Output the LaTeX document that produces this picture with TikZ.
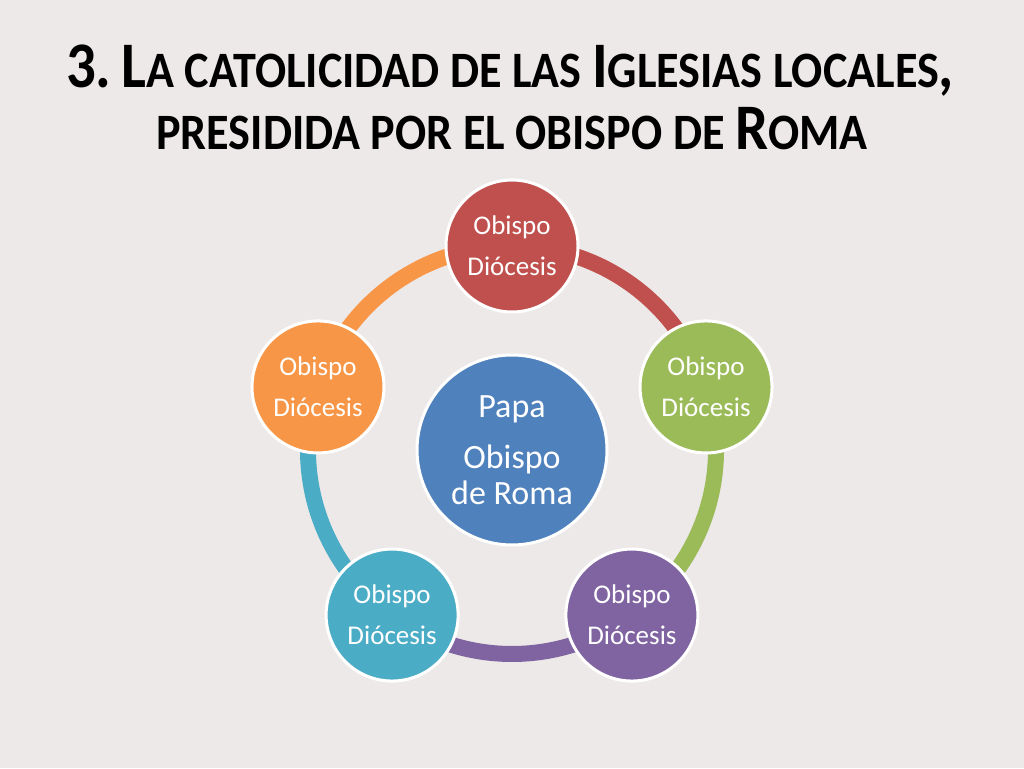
\documentclass[tikz,border=0pt]{standalone}
\usepackage{fontspec}
\usepackage{graphicx}
\setmainfont{Carlito}
\definecolor{bgc}{HTML}{EEE9E9}
\definecolor{cred}{HTML}{C0504D}
\definecolor{cgreen}{HTML}{9BBB59}
\definecolor{cpurple}{HTML}{8064A2}
\definecolor{cteal}{HTML}{4BACC6}
\definecolor{corange}{HTML}{F79646}
\definecolor{cblue}{HTML}{4F81BD}
\newcommand{\BigL}[1]{{\fontsize{65}{70}\selectfont #1}}
\newcommand{\SmL}[1]{{\fontsize{51}{70}\selectfont #1}}
\tikzset{
  x=1pt, y=1pt,
  bishop/.style={circle, draw=white, line width=3pt, minimum size=132pt, inner sep=0pt,
    text=white, align=center, font=\fontsize{27}{41}\selectfont},
  pope/.style={circle, draw=white, line width=3pt, minimum size=190pt, inner sep=0pt,
    text=white, align=center, font=\fontsize{34}{36}\selectfont, fill=cblue},
  ringarc/.style={line width=16pt},
  titletext/.style={text=black, font=\bfseries, inner sep=0pt, anchor=base}
}
\begin{document}
\begin{tikzpicture}
\fill[bgc] (0,0) rectangle (1024,768);
\useasboundingbox (0,0) rectangle (1024,768);
% title
\node[titletext] (t1) at (510,680) {\scalebox{0.905}[1]{\BigL{3.\,L}\SmL{A CATOLICIDAD DE LAS }\BigL{I}\SmL{GLESIAS LOCALES}\BigL{,}}};
\node[titletext] (t2) at (512,618) {\scalebox{0.905}[1]{\SmL{PRESIDIDA POR EL OBISPO DE }\BigL{R}\SmL{OMA}}};
% ring positions
\coordinate (c) at (512,318);
\path (c) +(90:204) coordinate (pa) +(18:204) coordinate (pb) +(-54:204) coordinate (pc)
  +(-126:204) coordinate (pd) +(162:204) coordinate (pe);
% arcs
\draw[ringarc, cred] (pa) arc[start angle=90, end angle=18, radius=204];
\draw[ringarc, cgreen] (pb) arc[start angle=18, end angle=-54, radius=204];
\draw[ringarc, cpurple] (pc) arc[start angle=-54, end angle=-126, radius=204];
\draw[ringarc, cteal] (pd) arc[start angle=-126, end angle=-198, radius=204];
\draw[ringarc, corange] (pe) arc[start angle=162, end angle=90, radius=204];
% nodes
\node[bishop, fill=cred] (na) at (pa) {Obispo\\Diócesis};
\node[bishop, fill=cgreen] (nb) at (pb) {Obispo\\Diócesis};
\node[bishop, fill=cpurple] (nc) at (pc) {Obispo\\Diócesis};
\node[bishop, fill=cteal] (nd) at (pd) {Obispo\\Diócesis};
\node[bishop, fill=corange] (ne) at (pe) {Obispo\\Diócesis};
\node[pope] (pope) at (512,318) {Papa\\[15pt]Obispo\\de Roma};
\end{tikzpicture}
\end{document}
